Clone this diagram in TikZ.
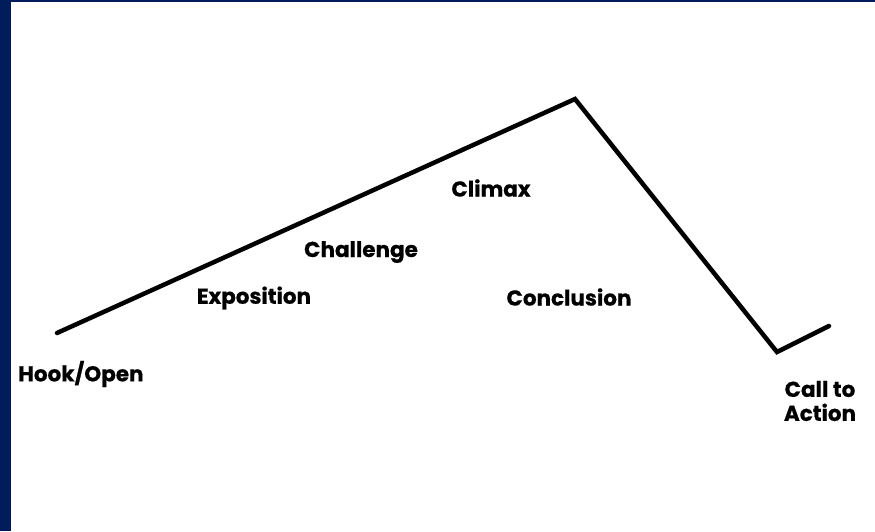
\documentclass[tikz,border=0pt]{standalone}
\usepackage{fontspec}
\setmainfont{Poppins}[UprightFont=* Bold, FakeBold=0.6]
\definecolor{navy}{RGB}{0,28,90}
\begin{document}
\begin{tikzpicture}[x=1pt,y=-1pt,
  stage/.style={font=\fontsize{21.5}{24}\selectfont, inner sep=0pt, text=black},
  arc/.style={line width=4.5pt, black, line join=miter, line cap=round}]
  % frame: white sheet with a navy edge on the left and top
  \fill[navy] (0,0) rectangle (875,531);
  \fill[white] (11,2) rectangle (875,531);
  \useasboundingbox (0,0) rectangle (875,531);
  % path vertices
  \coordinate (open) at (57,333);
  \coordinate (peak) at (575,99);
  \coordinate (low) at (777,352);
  \coordinate (end) at (829,326);
  \draw[arc] (open) -- (peak) -- (low) -- (end);
  % stage labels
  \node[stage, anchor=west] (hook) at (18,374) {Hook/Open};
  \node[stage] (expo) at (254,298) {Exposition};
  \node[stage] (chal) at (361,252) {Challenge};
  \node[stage] (clim) at (491,188) {Climax};
  \node[stage] (conc) at (569,297) {Conclusion};
  \node[stage, align=center] (cta) at (820,401) {Call to\\Action};
\end{tikzpicture}
\end{document}
